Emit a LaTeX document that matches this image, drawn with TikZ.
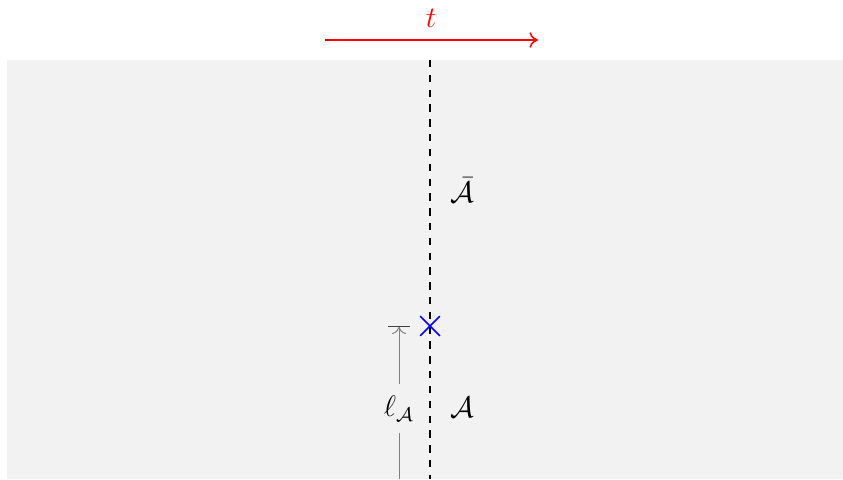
\documentclass[tikz,border=0pt]{standalone}
\usepackage{amsmath,amssymb}
\usepackage{tikz}
\usetikzlibrary{arrows.meta,shapes.misc}

\begin{document}
\begin{tikzpicture}[
  x=0.014235cm, y=-0.014235cm,
  bg/.style={fill=black!5, draw=none},
  cut/.style={line width=1.1pt, dashed},
  tarr/.style={-{To[length=1.2mm,width=2.2mm]}, red, semithick},
  ell/.style={-{To[length=1mm,width=2mm]Bar[width=3mm,color=black!75]}, gray, thin},
  cx/.style={cross out, draw=blue, semithick, minimum size=2.6mm, inner sep=0pt},
  lbl/.style={inner sep=1pt, font=\large}]

\useasboundingbox (0,0) rectangle (843,479);
\fill[bg] (7,60) rectangle (843,479);

% time direction
\coordinate (t0) at (325,40);
\coordinate (t1) at (538,40);
\draw[tarr] (t0) -- (t1);
\node[lbl, red] (tl) at (431,18) {$t$};

% entanglement cut
\coordinate (ctop) at (430,60);
\coordinate (cbot) at (430,479);
\draw[cut] (ctop) -- (cbot);
\node[cx] (ep) at (430,326) {};

\node[lbl] (Abar) at (462,190) {$\bar{\mathcal{A}}$};
\node[lbl] (A) at (462,407) {$\mathcal{A}$};

% length of A
\coordinate (lbot) at (399,479);
\coordinate (ltop) at (399,326);
\draw[ell] (lbot) -- node[lbl, fill=black!5, inner xsep=3pt, inner ysep=5pt, text=black, pos=0.46] (lA) {$\ell_{\mathcal{A}}$} (ltop);
\end{tikzpicture}
\end{document}
